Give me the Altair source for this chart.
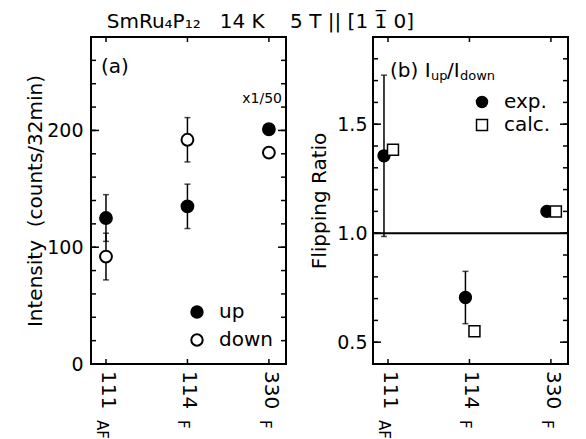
import altair as alt
import pandas as pd

FONT = "DejaVu Sans"
NB = "\u00a0"

# ---------------- data ----------------
refl_main = ["111", "114", "330"]
refl_sub = ["AF", "F", "F"]
refl_pos = [0, 1, 2]

# panel (a): intensity (counts/32min); 330_F shown x1/50
up_val = [125, 135, 201]
up_err = [20, 19, 0]
down_val = [92, 192, 181]
down_err = [20, 19, 0]

# panel (b): flipping ratio I_up/I_down
exp_val = [1.355, 0.705, 1.10]
exp_err = [0.37, 0.12, 0]
calc_val = [1.383, 0.55, 1.10]

# axis ticks
a_minor = list(range(0, 281, 20))
a_major = [0, 100, 200]
b_minor = [0.4, 0.5, 0.6, 0.7, 0.8, 0.9, 1.0, 1.1, 1.2, 1.3, 1.4, 1.5, 1.6, 1.7, 1.8, 1.9]
b_major = [0.5, 1.0, 1.5]
ref_line = [1.0]

W, H = 195, 327
xs = alt.Scale(domain=[-0.184, 2.21], nice=False, zero=False)
ya = alt.Scale(domain=[0, 280], nice=False, zero=False)
yb = alt.Scale(domain=[0.4, 1.9], nice=False, zero=False)

axis_a = alt.Axis(values=a_major, title="Intensity" + NB + NB + "(counts/32min)",
                  labelPadding=8, titlePadding=1)
axis_b = alt.Axis(values=b_major, format=".1f", title="Flipping Ratio",
                  labelPadding=6, titlePadding=7)
xa = alt.X("pos:Q", scale=xs, axis=None)


def side_ticks(vals, yscale, yaxis, length):
    d = pd.DataFrame({"v": vals})
    base = alt.Chart(d).mark_rule(color="black", strokeWidth=1.5)
    y = alt.Y("v:Q", scale=yscale, axis=yaxis)
    return [
        base.encode(y=y, x=alt.value(0), x2=alt.value(length)),
        base.encode(y=y, x=alt.value(W - length), x2=alt.value(W)),
    ]


def x_ticks(length):
    d = pd.DataFrame({"pos": refl_pos})
    base = alt.Chart(d).mark_rule(color="black", strokeWidth=1.5)
    return [
        base.encode(x=xa, y=alt.value(H - length), y2=alt.value(H)),
        base.encode(x=xa, y=alt.value(0), y2=alt.value(length)),
    ]


def x_labels():
    d = pd.DataFrame({"pos": refl_pos, "main": refl_main, "sub": refl_sub})
    main = alt.Chart(d).mark_text(angle=90, align="left", baseline="middle",
                                  fontSize=20, font=FONT, color="black", xOffset=2).encode(
        x=xa, y=alt.value(H + 7), text="main:N")
    sub = alt.Chart(d).mark_text(angle=90, align="left", baseline="middle",
                                 fontSize=15, font=FONT, color="black", xOffset=-4).encode(
        x=xa, y=alt.value(H + 56), text="sub:N")
    return [main, sub]


def note(txt, x, y, size=20, align="left"):
    return alt.Chart(pd.DataFrame({"t": [txt]})).mark_text(
        align=align, baseline="middle", fontSize=size, font=FONT, color="black").encode(
        x=alt.value(x), y=alt.value(y), text="t:N")


def legend(x, y, stroke_w, size, row_pad):
    return alt.Legend(orient="none", legendX=x, legendY=y, title=None,
                      labelFontSize=20, labelFont=FONT, symbolSize=size,
                      symbolStrokeWidth=stroke_w, symbolStrokeColor="black",
                      labelOffset=12, rowPadding=row_pad)


# ---------------- panel (a) ----------------
dfa = pd.DataFrame({
    "pos": refl_pos * 2,
    "series": ["up"] * 3 + ["down"] * 3,
    "val": up_val + down_val,
    "err": up_err + down_err,
})
dfa["lo"] = dfa["val"] - dfa["err"]
dfa["hi"] = dfa["val"] + dfa["err"]
dfa_e = dfa[dfa["err"] > 0]

err_a = alt.Chart(dfa_e).mark_rule(color="black", strokeWidth=1.5).encode(
    x=xa, y=alt.Y("lo:Q", scale=ya, axis=axis_a), y2="hi:Q")
cap_lo_a = alt.Chart(dfa_e).mark_tick(color="black", orient="horizontal", size=6, thickness=1.5).encode(
    x=xa, y=alt.Y("lo:Q", scale=ya, axis=axis_a))
cap_hi_a = alt.Chart(dfa_e).mark_tick(color="black", orient="horizontal", size=6, thickness=1.5).encode(
    x=xa, y=alt.Y("hi:Q", scale=ya, axis=axis_a))

leg_a = legend(96, 265, 2, 130, 8)
dom_a = ["up", "down"]
pts_a = alt.Chart(dfa).mark_point(shape="circle", size=140, filled=True,
                                  strokeWidth=2, opacity=1).encode(
    x=xa,
    y=alt.Y("val:Q", scale=ya, axis=axis_a),
    fill=alt.Fill("series:N", scale=alt.Scale(domain=dom_a, range=["black", "white"]), legend=leg_a),
    stroke=alt.Stroke("series:N", scale=alt.Scale(domain=dom_a, range=["black", "black"]), legend=leg_a),
)

left = alt.layer(
    *side_ticks(a_minor, ya, axis_a, 5), *side_ticks(a_major, ya, axis_a, 8), *x_ticks(5),
    err_a, cap_lo_a, cap_hi_a, pts_a,
    *x_labels(),
    note("(a)", 10, 30), note("x1/50", W - 4, 62, size=14, align="right"),
).properties(width=W, height=H)

# ---------------- panel (b) ----------------
dfe = pd.DataFrame({"pos": refl_pos, "series": ["exp."] * 3, "val": exp_val, "err": exp_err})
dfe["lo"] = dfe["val"] - dfe["err"]
dfe["hi"] = dfe["val"] + dfe["err"]
dfe_e = dfe[dfe["err"] > 0]
dfc = pd.DataFrame({"pos": refl_pos, "series": ["calc."] * 3, "val": calc_val})

leg_b = legend(99, 55, 1.5, 120, 3)
dom_b = ["exp.", "calc."]
fill_b = alt.Fill("series:N", scale=alt.Scale(domain=dom_b, range=["black", "white"]), legend=leg_b)
stroke_b = alt.Stroke("series:N", scale=alt.Scale(domain=dom_b, range=["black", "black"]), legend=leg_b)
shape_b = alt.Shape("series:N", scale=alt.Scale(domain=dom_b, range=["circle", "square"]), legend=leg_b)

hline = alt.Chart(pd.DataFrame({"v": ref_line})).mark_rule(color="black", strokeWidth=2).encode(
    y=alt.Y("v:Q", scale=yb, axis=axis_b))
err_b = alt.Chart(dfe_e).mark_rule(color="black", strokeWidth=1.5, xOffset=-4).encode(
    x=xa, y=alt.Y("lo:Q", scale=yb, axis=axis_b), y2="hi:Q")
cap_lo_b = alt.Chart(dfe_e).mark_tick(color="black", orient="horizontal", size=6, thickness=1.5,
                                      xOffset=-4).encode(x=xa, y=alt.Y("lo:Q", scale=yb, axis=axis_b))
cap_hi_b = alt.Chart(dfe_e).mark_tick(color="black", orient="horizontal", size=6, thickness=1.5,
                                      xOffset=-4).encode(x=xa, y=alt.Y("hi:Q", scale=yb, axis=axis_b))
yb_enc = alt.Y("val:Q", scale=yb, axis=axis_b)
pts_e = alt.Chart(dfe).mark_point(size=140, filled=True, strokeWidth=1.5,
                                  opacity=1, xOffset=-4).encode(
    x=xa, y=yb_enc, fill=fill_b, stroke=stroke_b, shape=shape_b)
pts_c = alt.Chart(dfc).mark_point(size=120, filled=True, strokeWidth=1.5,
                                  opacity=1, xOffset=5).encode(
    x=xa, y=yb_enc, fill=fill_b, stroke=stroke_b, shape=shape_b)

right = alt.layer(
    *side_ticks(b_minor, yb, axis_b, 5), *side_ticks(b_major, yb, axis_b, 8), *x_ticks(5),
    hline, err_b, cap_lo_b, cap_hi_b, pts_e, pts_c,
    *x_labels(),
    note("(b) I", 17, 34), note("up", 58, 39, size=13), note("/I", 74, 34), note("down", 87, 39, size=13),
).properties(width=W, height=H)

title_txt = ("SmRu\u2084P\u2081\u2082" + NB * 3 + "14" + NB + "K" + NB * 4 +
             "5" + NB + "T" + NB + "||" + NB + "[1" + NB + "1\u0305" + NB + "0]")

chart = alt.hconcat(left, right, spacing=20).resolve_scale(
    fill="independent", shape="independent", stroke="independent"
).properties(
    title=alt.TitleParams(text=title_txt, anchor="start", dx=82, fontSize=20, font=FONT,
                          fontWeight="normal", color="black", offset=3),
    padding={"left": 24, "top": 12, "right": 5, "bottom": 5},
).configure_view(stroke="black", strokeWidth=2).configure_axis(
    grid=False, domain=False, ticks=False, labelFont=FONT, labelFontSize=19, labelColor="black",
    titleFont=FONT, titleFontSize=20, titleFontWeight="normal", titleColor="black",
).configure_legend(labelColor="black")

chart.save("out.html", embed_options={"renderer": "svg", "actions": False})
